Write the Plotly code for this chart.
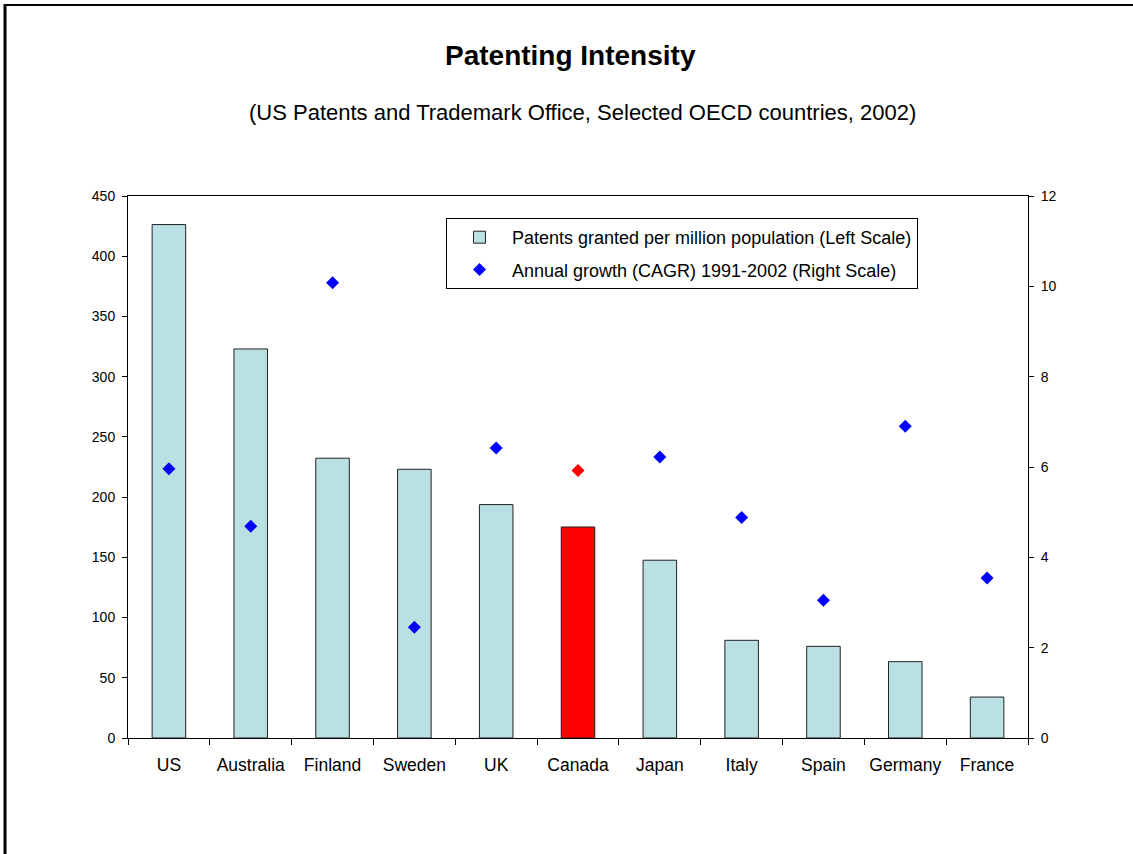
import plotly.graph_objects as go

# Patents granted per million population (left scale) and CAGR 1991-2002 (right scale)
countries = ["US", "Australia", "Finland", "Sweden", "UK", "Canada",
             "Japan", "Italy", "Spain", "Germany", "France"]
patents_per_million = [426.3, 323.0, 232.3, 223.1, 193.8, 175.2,
                       147.6, 81.1, 76.1, 63.4, 34.0]
cagr_1991_2002 = [5.96, 4.69, 10.08, 2.45, 6.42, 5.92,
                  6.22, 4.88, 3.05, 6.90, 3.54]
highlight = "Canada"

left_ticks = list(range(0, 451, 50))
right_ticks = list(range(0, 13, 2))

BAR_FILL = "#BAE0E3"
RED = "#FF0000"
BLUE = "#0000FF"
FONT = "Liberation Sans, Arial, sans-serif"

bar_colors = [RED if c == highlight else BAR_FILL for c in countries]
dot_colors = [RED if c == highlight else BLUE for c in countries]

fig = go.Figure()
fig.add_trace(go.Bar(
    x=countries, y=patents_per_million,
    name="Patents granted per million population (Left Scale)",
    legendgroup="bars",
    marker=dict(color=bar_colors, line=dict(color="#222222", width=1)),
    width=0.41,
    yaxis="y",
))
fig.add_trace(go.Scatter(
    x=countries, y=cagr_1991_2002,
    name="Annual growth (CAGR) 1991-2002 (Right Scale)",
    legendgroup="growth",
    mode="markers",
    marker=dict(symbol="diamond", size=10, color=dot_colors, line=dict(width=0)),
    yaxis="y2",
))

# Plot area in pixels: x 128..1028, y 196..738
L, R, T, B = 128, 1028, 196, 738
W, H = 1133, 854
pw, ph = R - L, B - T


def px_x(x):
    return (x - L) / pw


def px_y(y):
    return (B - y) / ph


axis_font = dict(family=FONT, size=14, color="black")

fig.update_layout(
    width=W, height=H,
    margin=dict(l=L, r=W - R, t=T, b=H - B, pad=0),
    paper_bgcolor="white", plot_bgcolor="white",
    font=dict(family=FONT, color="black"),
    showlegend=True,
    legend=dict(
        x=px_x(446), y=px_y(218), xanchor="left", yanchor="top",
        bordercolor="black", borderwidth=1, bgcolor="white",
        font=dict(family=FONT, size=18, color="black"),
        itemwidth=55, traceorder="grouped", tracegroupgap=6,
    ),
    xaxis=dict(
        type="category", categoryorder="array", categoryarray=countries,
        range=[-0.5, len(countries) - 0.5],
        showline=True, linecolor="black", linewidth=1, mirror=True,
        ticks="outside", tickson="boundaries", ticklen=6, tickcolor="black",
        tickfont=dict(family=FONT, size=17.5, color="black"), tickangle=0,
        ticklabelstandoff=11, showgrid=False, zeroline=False,
    ),
    yaxis=dict(
        range=[0, 450], tickmode="array", tickvals=left_ticks,
        showline=True, linecolor="black", linewidth=1,
        ticks="outside", ticklen=5, tickcolor="black",
        tickfont=axis_font, ticklabelstandoff=4,
        showgrid=False, zeroline=False,
    ),
    yaxis2=dict(
        range=[0, 12], tickmode="array", tickvals=right_ticks,
        overlaying="y", side="right", anchor="x",
        showline=True, linecolor="black", linewidth=1,
        ticks="outside", ticklen=5, tickcolor="black",
        tickfont=axis_font, ticklabelstandoff=4,
        showgrid=False, zeroline=False,
    ),
    annotations=[
        dict(text="<b>Patenting Intensity</b>", xref="paper", yref="paper",
             x=px_x(570), y=px_y(55), xanchor="center", yanchor="middle",
             showarrow=False, font=dict(family=FONT, size=28, color="black")),
        dict(text="(US Patents and Trademark Office, Selected OECD countries, 2002)",
             xref="paper", yref="paper",
             x=px_x(582), y=px_y(112), xanchor="center", yanchor="middle",
             showarrow=False, font=dict(family=FONT, size=22, color="black")),
    ],
    shapes=[
        # outer frame edges along the top and left of the page
        dict(type="line", xref="paper", yref="paper",
             x0=px_x(4), x1=px_x(W + 5), y0=px_y(5), y1=px_y(5),
             line=dict(color="black", width=2)),
        dict(type="line", xref="paper", yref="paper",
             x0=px_x(5), x1=px_x(5), y0=px_y(4), y1=px_y(H + 5),
             line=dict(color="black", width=3)),
    ],
)

fig.write_html("out.html")
